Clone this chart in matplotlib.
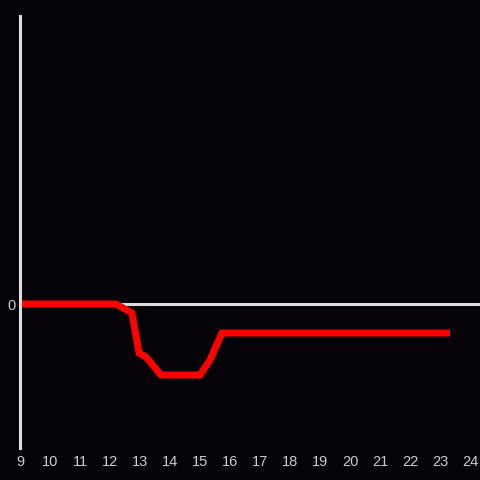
import matplotlib
matplotlib.use('Agg')
import matplotlib.pyplot as plt

# hours of day and values
hours = [9, 12.2, 12.73, 12.97, 13.2, 13.7, 15.0, 15.33, 15.73, 23.33]
values = [0, 0, -0.9, -4.9, -5.3, -7.1, -7.1, -5.6, -2.9, -2.9]
xticks = list(range(9, 25))

bg = '#050307'
fig = plt.figure(figsize=(4.8, 4.8), dpi=100, facecolor=bg)
ax = fig.add_axes([20 / 480, 32 / 480, 460 / 480, 432 / 480])
ax.set_facecolor(bg)

ax.axhline(0, color='#dddddd', lw=2.2, zorder=1)
ax.plot(hours, values, color='#ff0000', lw=5, solid_joinstyle='miter',
        solid_capstyle='butt', zorder=2)

ax.set_xlim(9, 24.33)
ax.set_ylim(-14.4, 28.8)
ax.set_xticks(xticks)
ax.set_xticklabels([str(h) for h in xticks])
ax.set_yticks([0])
ax.set_yticklabels(['0'])

for s in ['top', 'right', 'bottom']:
    ax.spines[s].set_visible(False)
ax.spines['left'].set_color('#dddddd')
ax.spines['left'].set_linewidth(2.2)

ax.tick_params(axis='both', length=0, colors='#cccccc', labelsize=10.5)
ax.tick_params(axis='x', pad=5)
ax.tick_params(axis='y', pad=3)
for lab in ax.get_xticklabels() + ax.get_yticklabels():
    lab.set_fontfamily('Liberation Sans')

fig.savefig('out.png', dpi=100, facecolor=bg)
